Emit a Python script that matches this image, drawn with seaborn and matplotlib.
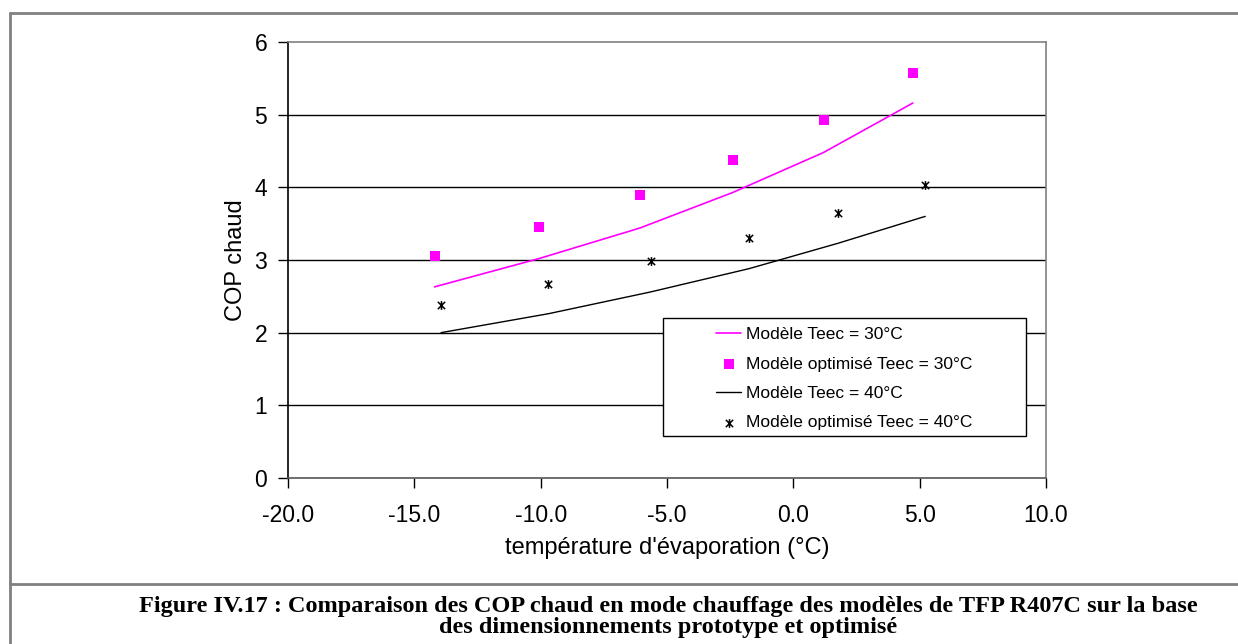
import numpy as np
import pandas as pd
import seaborn as sns
import matplotlib.pyplot as plt
from matplotlib.path import Path
from matplotlib.lines import Line2D
from matplotlib.patches import Rectangle

# data
t_model30 = [-14.2, -10.06, -6.07, -2.39, 1.2, 4.73]
cop_model30 = [2.63, 3.02, 3.44, 3.93, 4.48, 5.16]
t_opt30 = [-14.2, -10.06, -6.07, -2.39, 1.2, 4.73]
cop_opt30 = [3.06, 3.46, 3.89, 4.37, 4.92, 5.57]
t_model40 = [-13.94, -9.70, -5.65, -1.76, 1.77, 5.22]
cop_model40 = [2.0, 2.26, 2.56, 2.88, 3.23, 3.60]
t_opt40 = [-13.94, -9.70, -5.65, -1.76, 1.77, 5.22]
cop_opt40 = [2.38, 2.67, 2.98, 3.30, 3.64, 4.03]

x_ticks = [-20, -15, -10, -5, 0, 5, 10]
y_ticks = [0, 1, 2, 3, 4, 5, 6]

labels = ["Modèle Teec = 30°C", "Modèle optimisé Teec = 30°C",
          "Modèle Teec = 40°C", "Modèle optimisé Teec = 40°C"]
caption = ("Figure IV.17 : Comparaison des COP chaud en mode chauffage des modèles de TFP R407C sur la base\n"
           "des dimensionnements prototype et optimisé")

sns.set_theme(style="white")
plt.rcParams['font.family'] = ['Liberation Sans', 'DejaVu Sans']
plt.rcParams['text.color'] = "black"
plt.rcParams['axes.labelcolor'] = "black"

# excel-like star marker: x with a vertical bar
star = Path([(-1, -1), (1, 1), (-1, 1), (1, -1), (0, -1.2), (0, 1.2)],
            [Path.MOVETO, Path.LINETO, Path.MOVETO, Path.LINETO, Path.MOVETO, Path.LINETO])

fig = plt.figure(figsize=(12.38, 6.44), dpi=100)
ax = fig.add_axes([0.2326, 0.2578, 0.6123, 0.677])

sns.lineplot(x=t_model30, y=cop_model30, ax=ax, color="#ff00ff", lw=1.2, label=labels[0])
sns.scatterplot(x=t_opt30, y=cop_opt30, ax=ax, color="#ff00ff", marker="s", s=45,
                edgecolor="#ff00ff", linewidth=0, label=labels[1])
sns.lineplot(x=t_model40, y=cop_model40, ax=ax, color="black", lw=1.0, label=labels[2])
sns.scatterplot(x=t_opt40, y=cop_opt40, ax=ax, color="black", marker=star, s=40,
                edgecolor="black", linewidth=1.1, label=labels[3])

ax.set_xlim(-20, 10)
ax.set_ylim(0, 6)
ax.set_xticks(x_ticks)
ax.set_xticklabels([f"{v:.1f}" for v in x_ticks])
ax.set_yticks(y_ticks)
for y in y_ticks[1:-1]:
    ax.axhline(y, color="black", lw=1.0, zorder=0)
ax.tick_params(axis="both", direction="out", length=7, width=1, colors="black",
               labelsize=16.5, left=True, bottom=True)
ax.tick_params(axis="x", pad=12)
ax.tick_params(axis="y", pad=8)
ax.spines["left"].set_color("black")
ax.spines["bottom"].set_color("#555555")
ax.spines["top"].set_color("#808080")
ax.spines["right"].set_color("#808080")
for s in ax.spines.values():
    s.set_linewidth(1.2)

ax.set_xlabel("température d'évaporation (°C)", fontsize=17, labelpad=7, color="black")
ax.set_ylabel("COP chaud", fontsize=17, labelpad=5, color="black")

# legend box drawn separately, entries placed inside it
ax.add_patch(Rectangle((0.4947, 0.0963), 0.479, 0.2706, transform=ax.transAxes,
                       facecolor="white", edgecolor="black", lw=1.0, zorder=5))
handles, lbls = ax.get_legend_handles_labels()
leg = ax.legend(handles, lbls, loc="upper left", bbox_to_anchor=(0.5646, 0.346),
                fontsize=12.5, frameon=False, borderpad=0, borderaxespad=0,
                handlelength=1.45, handletextpad=0.3, labelspacing=0.82)
leg.set_zorder(6)
for txt in leg.get_texts():
    txt.set_color("black")

# outer frame and caption separator
fig.add_artist(Line2D([10 / 1238, 10 / 1238], [0, 1 - 13 / 644], transform=fig.transFigure, color="#808080", lw=2))
fig.add_artist(Line2D([10 / 1238, 1], [1 - 13 / 644, 1 - 13 / 644], transform=fig.transFigure, color="#808080", lw=2))
fig.add_artist(Line2D([10 / 1238, 1], [1 - 584 / 644, 1 - 584 / 644], transform=fig.transFigure, color="#808080", lw=2))

fig.text(668 / 1238, 1 - 617 / 644, caption, ha="center", va="center", fontsize=17.5,
         fontweight="bold", family=["Liberation Serif", "DejaVu Serif"], linespacing=1.05,
         multialignment="center", color="black")

fig.savefig("out.png", dpi=100, facecolor="white")
